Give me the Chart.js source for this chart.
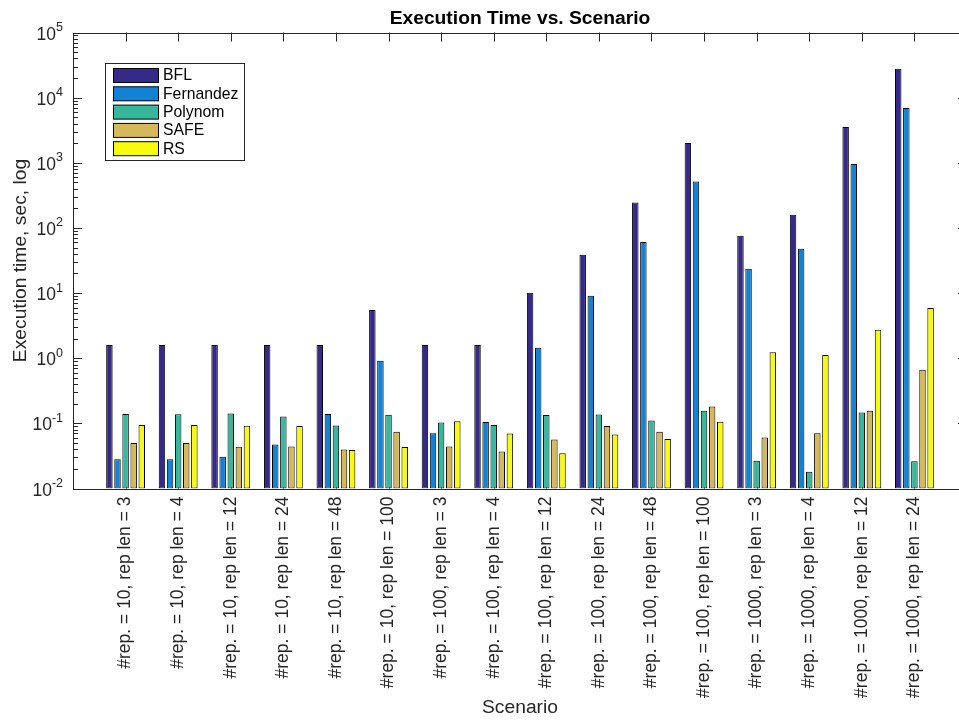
<!DOCTYPE html>
<html>
<head>
<meta charset="utf-8">
<script src="https://cdn.jsdelivr.net/npm/chart.js@4/dist/chart.umd.min.js"></script>
<style>
  html, body { margin: 0; padding: 0; background: #fff; overflow: hidden; }
  #wrap { position: absolute; left: 0; top: 0; width: 980px; height: 721px; }
</style>
</head>
<body>
<div id="wrap"><canvas id="c" width="980" height="721"></canvas></div>
<script>
// Scenario labels (x axis)
const categories = [
  '#rep. = 10, rep len = 3',
  '#rep. = 10, rep len = 4',
  '#rep. = 10, rep len = 12',
  '#rep. = 10, rep len = 24',
  '#rep. = 10, rep len = 48',
  '#rep. = 10, rep len = 100',
  '#rep. = 100, rep len = 3',
  '#rep. = 100, rep len = 4',
  '#rep. = 100, rep len = 12',
  '#rep. = 100, rep len = 24',
  '#rep. = 100, rep len = 48',
  '#rep. = 100, rep len = 100',
  '#rep. = 1000, rep len = 3',
  '#rep. = 1000, rep len = 4',
  '#rep. = 1000, rep len = 12',
  '#rep. = 1000, rep len = 24'
];

// Execution times in seconds
const bfl       = [1.6, 1.6, 1.6, 1.6, 1.6, 5.5, 1.6, 1.6, 10.1, 38.7, 246, 2005, 75.7, 159, 3532, 27730];
const fernandez = [0.0282, 0.0282, 0.0307, 0.0473, 0.139, 0.912, 0.0708, 0.1045, 1.445, 9.08, 60.6, 516, 23.6, 47.8, 955, 6918];
const polynom   = [0.139, 0.138, 0.1416, 0.127, 0.0927, 0.135, 0.103, 0.094, 0.134, 0.1367, 0.1107, 0.156, 0.0266, 0.018, 0.1468, 0.0263];
const safe      = [0.0498, 0.0498, 0.0437, 0.0442, 0.0397, 0.0741, 0.0442, 0.037, 0.0565, 0.0908, 0.0741, 0.1816, 0.0607, 0.0708, 0.156, 0.664];
const rs        = [0.094, 0.094, 0.0917, 0.0908, 0.0389, 0.0432, 0.108, 0.0698, 0.0349, 0.0675, 0.0573, 0.1057, 1.24, 1.116, 2.73, 5.88];

// Log axis decades and series names
const decades = [-2, -1, 0, 1, 2, 3, 4, 5];
const seriesNames = ['BFL', 'Fernandez', 'Polynom', 'SAFE', 'RS'];
const seriesColors = ['#352A87', '#1283D4', '#37B89D', '#D5B958', '#F9FB0E'];
const seriesValues = [bfl, fernandez, polynom, safe, rs];

const FONT = '"Liberation Sans", Arial, Helvetica, sans-serif';
const AXIS_COLOR = '#262626';
const AXIS_FONT = 17.5;          // tick labels
const LABEL_FONT = 19.25;        // axis titles and title
const LEGEND_FONT = 15.75;

const datasets = seriesNames.map((name, s) => ({
  label: name,
  data: seriesValues[s].map((v, i) => ({ x: i + 1, y: v })),
  backgroundColor: seriesColors[s],
  borderColor: '#000',
  borderWidth: 1,
  borderSkipped: false,
  inflateAmount: 0,
  categoryPercentage: 5 / 6.5,
  barPercentage: 0.8
}));

// Box, inward ticks, decade labels, titles and legend
const decor = {
  id: 'decor',
  beforeDatasetsDraw(chart) {
    const { ctx, chartArea: a, scales } = chart;
    const y = scales.y, x = scales.x;
    ctx.save();
    ctx.strokeStyle = AXIS_COLOR;
    ctx.lineWidth = 1;
    ctx.beginPath();
    // y ticks, left and right sides
    decades.forEach((d, k) => {
      const py = Math.round(y.getPixelForValue(Math.pow(10, d))) + 0.5;
      ctx.moveTo(a.left, py); ctx.lineTo(a.left + 9, py);
      ctx.moveTo(a.right, py); ctx.lineTo(a.right - 9, py);
      if (k < decades.length - 1) {
        for (let m = 2; m <= 9; m++) {
          const pm = Math.round(y.getPixelForValue(m * Math.pow(10, d))) + 0.5;
          ctx.moveTo(a.left, pm); ctx.lineTo(a.left + 5, pm);
          ctx.moveTo(a.right, pm); ctx.lineTo(a.right - 5, pm);
        }
      }
    });
    // x ticks, top and bottom
    categories.forEach((c, i) => {
      const px = Math.round(x.getPixelForValue(i + 1)) + 0.5;
      ctx.moveTo(px, a.top); ctx.lineTo(px, a.top + 9);
      ctx.moveTo(px, a.bottom); ctx.lineTo(px, a.bottom - 9);
    });
    ctx.stroke();
    ctx.restore();
  },
  afterDatasetsDraw(chart) {
    const { ctx, chartArea: a, scales } = chart;
    const y = scales.y;
    const cx = (a.left + a.right) / 2;
    ctx.save();
    // axes box
    ctx.strokeStyle = AXIS_COLOR;
    ctx.lineWidth = 1;
    ctx.strokeRect(Math.round(a.left) + 0.5, Math.round(a.top) + 0.5,
                   Math.round(a.right - a.left), Math.round(a.bottom - a.top));

    // decade labels 10^n
    ctx.fillStyle = AXIS_COLOR;
    ctx.textBaseline = 'alphabetic';
    decades.forEach(d => {
      const py = y.getPixelForValue(Math.pow(10, d));
      const exp = String(d);
      ctx.font = '12.5px ' + FONT;
      ctx.textAlign = 'right';
      const ex = a.left - 10;
      ctx.fillText(exp, ex, py - 1.5);
      const ew = ctx.measureText(exp).width;
      ctx.font = AXIS_FONT + 'px ' + FONT;
      ctx.fillText('10', ex - ew, py + 7);
    });

    // title
    ctx.fillStyle = '#000';
    ctx.font = 'bold ' + LABEL_FONT + 'px ' + FONT;
    ctx.textAlign = 'center';
    ctx.fillText('Execution Time vs. Scenario', cx, 24);

    // axis titles
    ctx.fillStyle = AXIS_COLOR;
    ctx.font = LABEL_FONT + 'px ' + FONT;
    ctx.fillText('Scenario', cx, 713);
    ctx.save();
    ctx.translate(26, (a.top + a.bottom) / 2);
    ctx.rotate(-Math.PI / 2);
    ctx.fillText('Execution time, sec, log', 0, 0);
    ctx.restore();

    // legend
    const lx = 105.5, ly = 63.5, lw = 139, lh = 97;
    ctx.fillStyle = '#fff';
    ctx.fillRect(lx, ly, lw, lh);
    ctx.strokeStyle = AXIS_COLOR;
    ctx.strokeRect(lx, ly, lw, lh);
    ctx.font = LEGEND_FONT + 'px ' + FONT;
    ctx.textAlign = 'left';
    ctx.textBaseline = 'middle';
    chart.data.datasets.forEach((ds, i) => {
      const sy = 68.5 + i * 18.3;
      ctx.fillStyle = ds.backgroundColor;
      ctx.fillRect(113.5, sy, 45, 14);
      ctx.strokeStyle = '#000';
      ctx.strokeRect(113.5, sy, 45, 14);
      ctx.fillStyle = '#000';
      ctx.fillText(ds.label, 163, sy + 7.5);
    });
    ctx.restore();
  }
};

new Chart(document.getElementById('c'), {
  type: 'bar',
  data: { datasets },
  plugins: [decor],
  options: {
    responsive: false,
    animation: false,
    devicePixelRatio: 1,
    layout: { padding: { top: 32.5, right: 13, bottom: 0, left: 0 } },
    plugins: { legend: { display: false }, tooltip: { enabled: false }, title: { display: false } },
    scales: {
      x: {
        type: 'linear',
        min: 0,
        max: 17,
        offset: false,
        grid: { display: false, drawTicks: false },
        border: { display: false },
        afterBuildTicks(s) { s.ticks = categories.map((c, i) => ({ value: i + 1 })); },
        afterFit(s) { s.height = 232.5; },
        ticks: {
          autoSkip: false,
          minRotation: 90,
          maxRotation: 90,
          padding: 8,
          color: AXIS_COLOR,
          font: { family: FONT, size: AXIS_FONT },
          callback: (v) => categories[v - 1]
        }
      },
      y: {
        type: 'logarithmic',
        min: 0.01,
        max: 100000,
        grid: { display: false, drawTicks: false },
        border: { display: false },
        ticks: { display: false },
        afterFit(s) { s.width = 73; }
      }
    }
  }
});
</script>
</body>
</html>
